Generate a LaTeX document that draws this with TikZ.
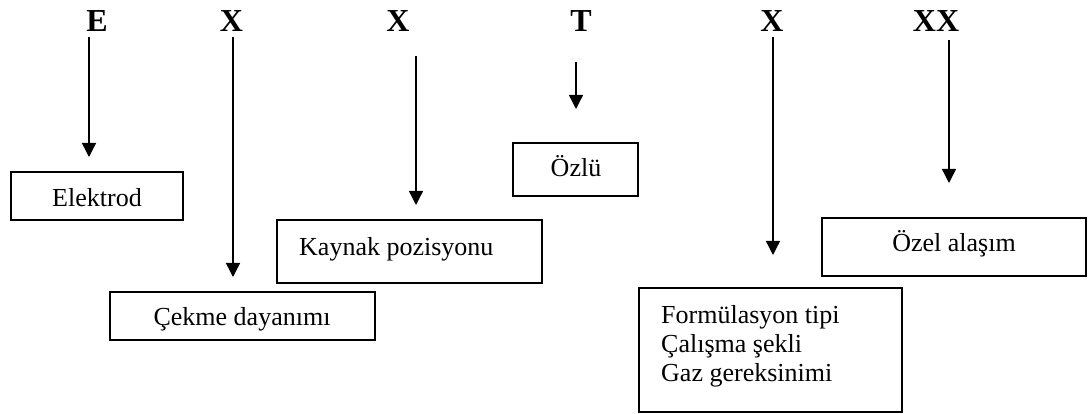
\documentclass[tikz,border=0pt]{standalone}
\usepackage{fontspec}
\setmainfont{Liberation Serif}
\usetikzlibrary{arrows.meta}
\begin{document}
\begin{tikzpicture}[x=1pt,y=-1pt,
  letter/.style={font=\fontsize{32}{36}\selectfont\bfseries, inner sep=0pt, anchor=base},
  lbl/.style={font=\fontsize{26}{29}\selectfont, inner sep=0pt},
  box/.style={draw, line width=1.6pt, inner sep=0pt, rectangle},
  arr/.style={line width=1.4pt, -{Triangle[width=14pt,length=14pt]}}]
\useasboundingbox (0,0) rectangle (1090,414);
% top letters
\node[letter] (lE)  at (97,32)    {E};
\node[letter] (lX1) at (231.5,32) {X};
\node[letter] (lX2) at (398,32)   {X};
\node[letter] (lT)  at (581,32)   {T};
\node[letter] (lX3) at (772,32)   {X};
\node[letter] (lXX) at (936,32)   {XX};
% boxes
\node[box, minimum width=172pt, minimum height=48pt]  (bElek) at (97,196)    {};
\node[box, minimum width=265pt, minimum height=48pt]  (bCek)  at (242.5,316) {};
\node[box, minimum width=265pt, minimum height=63pt]  (bKay)  at (409.5,251.5) {};
\node[box, minimum width=125pt, minimum height=53pt]  (bOzlu) at (575.5,169.5) {};
\node[box, minimum width=264pt, minimum height=58pt]  (bOzel) at (954,247)    {};
\node[box, minimum width=263pt, minimum height=124pt] (bForm) at (770.5,350)  {};
% texts
\node[lbl, anchor=base] (tElek) at (97,207) {Elektrod};
\node[lbl, anchor=base] (tCek) at (242,325) {Çekme dayanımı};
\node[lbl, anchor=base west] (tKay) at (299,255) {Kaynak pozisyonu};
\node[lbl, anchor=base] (tOzlu) at (576,177) {Özlü};
\node[lbl, anchor=base] (tOzel) at (954,252) {Özel alaşım};
\node[lbl, anchor=north west, align=left] (tForm) at (661,305.5) {Formülasyon tipi\\Çalışma şekli\\Gaz gereksinimi};
% arrow ends
\coordinate (sE)  at (89,37);   \coordinate (eE)  at (89,157);
\coordinate (sX1) at (233,37);  \coordinate (eX1) at (233,277);
\coordinate (sX2) at (416,56);  \coordinate (eX2) at (416,205);
\coordinate (sT)  at (576,62);  \coordinate (eT)  at (576,109);
\coordinate (sX3) at (773,37);  \coordinate (eX3) at (773,255);
\coordinate (sXX) at (949,40);  \coordinate (eXX) at (949,183);
\draw[arr] (sE) -- (eE);
\draw[arr] (sX1) -- (eX1);
\draw[arr] (sX2) -- (eX2);
\draw[arr] (sT) -- (eT);
\draw[arr] (sX3) -- (eX3);
\draw[arr] (sXX) -- (eXX);
\end{tikzpicture}
\end{document}
